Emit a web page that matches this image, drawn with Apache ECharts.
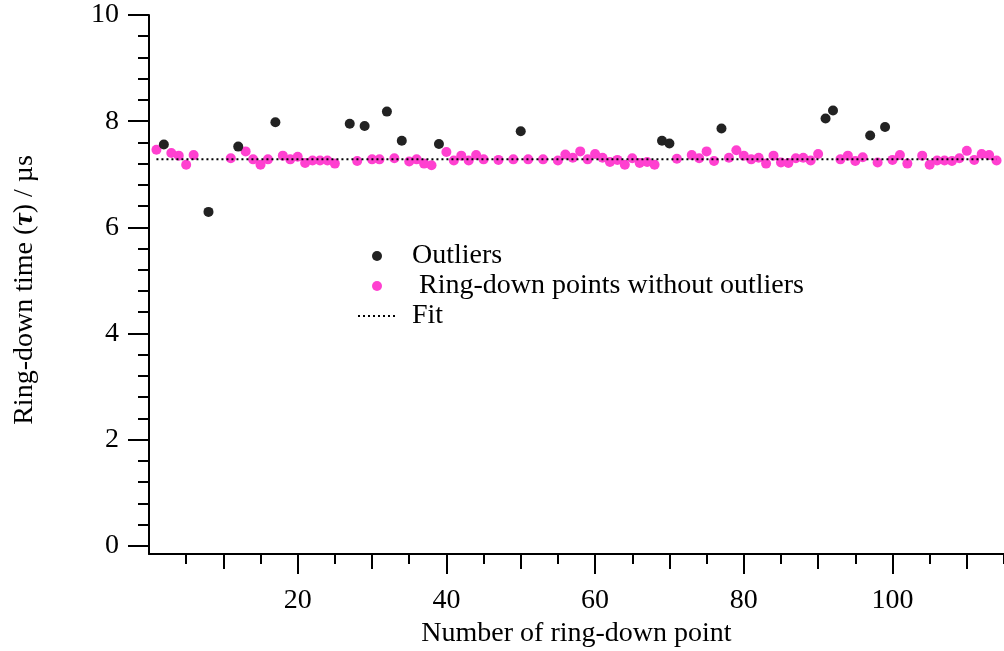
<!DOCTYPE html>
<html>
<head>
<meta charset="utf-8">
<script src="https://cdn.jsdelivr.net/npm/echarts@6/dist/echarts.min.js"></script>
<style>
  html, body { margin: 0; padding: 0; background: #fff; }
  #chart { width: 1004px; height: 651px; }
</style>
</head>
<body>
<div id="chart"></div>
<script>
// Ring-down measurements (index, tau in µs)
const keptIndex = [1,3,4,5,6,11,13,14,15,16,18,19,20,21,22,23,24,25,28,30,31,33,35,36,37,38,40,41,42,43,44,45,47,49,51,53,55,56,57,58,59,60,61,62,63,64,65,66,67,68,71,73,74,75,76,78,79,80,81,82,83,84,85,86,87,88,89,90,93,94,95,96,98,100,101,102,104,105,106,107,108,109,110,111,112,113,114];
const keptTau = [7.46,7.40,7.35,7.18,7.36,7.30,7.43,7.28,7.18,7.28,7.35,7.28,7.33,7.21,7.26,7.26,7.26,7.20,7.25,7.28,7.28,7.30,7.24,7.28,7.20,7.17,7.42,7.26,7.35,7.26,7.36,7.28,7.27,7.28,7.28,7.28,7.26,7.37,7.31,7.43,7.28,7.38,7.31,7.23,7.27,7.18,7.30,7.21,7.23,7.18,7.29,7.36,7.30,7.43,7.25,7.31,7.45,7.35,7.28,7.31,7.20,7.35,7.22,7.21,7.30,7.31,7.26,7.38,7.28,7.35,7.25,7.32,7.22,7.27,7.36,7.20,7.35,7.18,7.26,7.26,7.25,7.30,7.44,7.27,7.38,7.36,7.26];

const outlierIndex = [2,8,12,17,27,29,32,34,39,50,69,70,77,91,92,97,99];
const outlierTau = [7.56,6.29,7.52,7.98,7.95,7.91,8.18,7.63,7.57,7.81,7.63,7.58,7.86,8.05,8.20,7.73,7.89];

// Constant fit over the measured range
const fitIndex = [1, 114];
const fitTau = 7.28;

// Axis tick and label values
const yMajor = [0, 2, 4, 6, 8, 10];
const yMinor = [0.4,0.8,1.2,1.6,2.4,2.8,3.2,3.6,4.4,4.8,5.2,5.6,6.4,6.8,7.2,7.6,8.4,8.8,9.2,9.6];
const xMajor = [20, 40, 60, 80, 100];
const xMid = [10, 30, 50, 70, 90, 110];
const xMinor = [5, 15, 25, 35, 45, 55, 65, 75, 85, 95, 105, 115];

const FONT = '"Liberation Serif", "Times New Roman", serif';
const FS = 28;
const axisColor = '#000';

const zip = (xs, ys) => xs.map((x, i) => [x, Array.isArray(ys) ? ys[i] : ys]);

const xBase = { type: 'value', min: 0, max: 115, position: 'bottom', offset: 0,
  splitLine: { show: false } };
const yBase = { type: 'value', min: -0.156, max: 10, position: 'left', offset: 0,
  splitLine: { show: false } };

const chart = echarts.init(document.getElementById('chart'), null, { renderer: 'canvas' });
chart.setOption({
  animation: false,
  backgroundColor: '#fff',
  grid: { left: 149, right: 0, top: 15, bottom: 97, containLabel: false, outerBoundsMode: 'none' },
  legend: {
    orient: 'vertical',
    left: 352,
    top: 237,
    itemWidth: 38,
    itemHeight: 10,
    itemGap: 2,
    data: ['Outliers', ' Ring-down points without outliers', 'Fit'],
    textStyle: { fontFamily: FONT, fontSize: FS, color: '#000', lineHeight: 28, padding: [0, 0, 0, 11] }
  },
  xAxis: [
    Object.assign({}, xBase, {
      name: 'Number of ring-down point',
      nameLocation: 'middle',
      nameGap: 66,
      nameTextStyle: { fontFamily: FONT, fontSize: FS, color: '#000' },
      axisLine: { show: true, onZero: false, lineStyle: { color: axisColor, width: 2 } },
      axisTick: { show: true, length: 20, customValues: xMajor, lineStyle: { color: axisColor, width: 2 } },
      axisLabel: { show: true, customValues: xMajor, margin: 33, fontFamily: FONT, fontSize: FS, color: '#000' }
    }),
    Object.assign({}, xBase, {
      axisLine: { show: false, onZero: false },
      axisTick: { show: true, length: 15, customValues: xMid, lineStyle: { color: axisColor, width: 2 } },
      axisLabel: { show: false }
    }),
    Object.assign({}, xBase, {
      axisLine: { show: false, onZero: false },
      axisTick: { show: true, length: 10, customValues: xMinor, lineStyle: { color: axisColor, width: 2 } },
      axisLabel: { show: false }
    })
  ],
  yAxis: [
    Object.assign({}, yBase, {
      name: 'Ring-down time ({t|τ}) / µs',
      nameLocation: 'middle',
      nameGap: 110,
      nameTextStyle: {
        fontFamily: FONT, fontSize: FS, color: '#000', padding: [0, 11, 0, 0],
        rich: { t: { fontFamily: FONT, fontSize: FS, fontStyle: 'italic', fontWeight: 'bold', color: '#000' } }
      },
      axisLine: { show: true, onZero: false, lineStyle: { color: axisColor, width: 2 } },
      axisTick: { show: true, length: 21, customValues: yMajor, lineStyle: { color: axisColor, width: 2 } },
      axisLabel: { show: true, customValues: yMajor, margin: 30, fontFamily: FONT, fontSize: FS, color: '#000' }
    }),
    Object.assign({}, yBase, {
      axisLine: { show: false, onZero: false },
      axisTick: { show: true, length: 11, customValues: yMinor, lineStyle: { color: axisColor, width: 2 } },
      axisLabel: { show: false }
    })
  ],
  series: [
    {
      name: ' Ring-down points without outliers',
      type: 'scatter',
      symbol: 'circle',
      symbolSize: 10,
      itemStyle: { color: '#ff40d0', opacity: 1 },
      data: zip(keptIndex, keptTau),
      z: 2
    },
    {
      name: 'Outliers',
      type: 'scatter',
      symbol: 'circle',
      symbolSize: 10,
      itemStyle: { color: '#222222', opacity: 1 },
      data: zip(outlierIndex, outlierTau),
      z: 2
    },
    {
      name: 'Fit',
      type: 'line',
      symbol: 'none',
      itemStyle: { color: '#000', opacity: 0 },
      lineStyle: { color: '#000', width: 2, type: [2, 3], opacity: 1 },
      data: zip(fitIndex, fitTau),
      z: 3
    }
  ]
});
</script>
</body>
</html>
